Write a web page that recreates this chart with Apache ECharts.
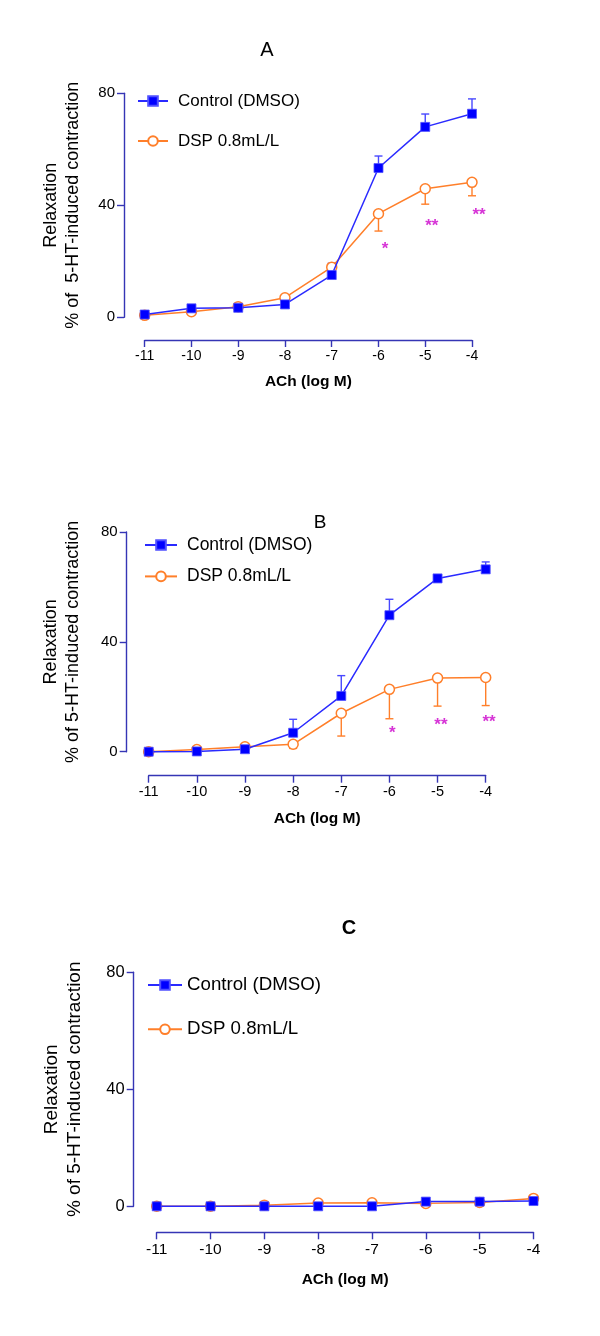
<!DOCTYPE html>
<html><head><meta charset="utf-8">
<script src="https://cdn.jsdelivr.net/npm/echarts@6/dist/echarts.min.js"></script>
<style>html,body{margin:0;padding:0;background:#fff}#c{width:600px;height:1336px}</style>
</head><body><div id="c"></div>
<script>
// ---- data ----
const xLogM = [-11, -10, -9, -8, -7, -6, -5, -4];
const xTicks = [-11, -10, -9, -8, -7, -6, -5, -4];
const yTicks = [0, 40, 80];
const seriesNames = ['Control (DMSO)', 'DSP 0.8mL/L'];
const panelTitles = ['A', 'B', 'C'];

const ctrlA = [1.0, 3.2, 3.4, 4.6, 15.1, 53.3, 68.0, 72.7];
const ctrlA_err = [0, 0, 0, 1.5, 4.2, 4.3, 4.6, 5.3];
const dspA = [0.7, 2.0, 3.8, 7.0, 17.9, 37.0, 45.9, 48.2];
const dspA_err = [0, 0, 0, 0, 0, 6.2, 5.5, 4.8];
const starsA = [[-5.86, 25.6, '*'], [-4.86, 34.0, '**'], [-3.85, 38.0, '**']];

const ctrlB = [0.0, 0.1, 0.9, 6.9, 20.3, 49.7, 63.1, 66.4];
const ctrlB_err = [0, 0, 0, 4.9, 7.4, 5.8, 0, 2.7];
const dspB = [0.0, 0.8, 1.8, 2.7, 14.0, 22.7, 26.8, 27.0];
const dspB_err = [0, 0, 0, 1.5, 8.3, 10.7, 10.2, 10.2];
const starsB = [[-5.94, 8.2, '*'], [-4.93, 10.9, '**'], [-3.93, 12.2, '**']];

const ctrlC = [0.0, 0.0, 0.0, 0.0, 0.0, 1.6, 1.6, 1.8];
const dspC = [0.0, 0.0, 0.4, 1.1, 1.2, 1.0, 1.3, 2.7];

// ---- style / layout ----
const BLUE = '#0000ff', BLUE_LINE = '#2a2aff', ORANGE = '#ff7f2a', MAG = '#cc00cc', AXIS = '#3535b5';
const FONT = '"Liberation Sans", Arial, sans-serif';
const panels = [
  {grid:{left:144.7, top:93.3, width:327.3, height:224}, yOff:20.7, xOff:22.7, tick:14, yTick:15, yName:18, legend:17,
   yTitle:'Relaxation\n% of  5-HT-induced contraction', nameGap:40, xNameGap:34, title:{x:262,y:45,size:20,bold:false},
   legendPos:{left:137, top:91}, legendGap:20, iconW:30, textPad:5, ctrl:ctrlA, cerr:ctrlA_err, dsp:dspA, derr:dspA_err, stars:starsA},
  {grid:{left:148.7, top:532, width:337, height:219.7}, yOff:22, xOff:24, tick:14.5, yTick:15, yName:18, legend:17.5,
   yTitle:'Relaxation\n% of 5-HT-induced contraction', nameGap:43, xNameGap:35, title:{x:315,y:518,size:19,bold:false},
   legendPos:{left:144, top:535}, legendGap:11.4, iconW:32, textPad:5, ctrl:ctrlB, cerr:ctrlB_err, dsp:dspB, derr:dspB_err, stars:starsB},
  {grid:{left:156.7, top:972.3, width:376.8, height:234}, yOff:23, xOff:26, tick:15.5, yTick:16.5, yName:19, legend:18.7,
   yTitle:'Relaxation\n% of 5-HT-induced contraction', nameGap:47, xNameGap:39, title:{x:344,y:923,size:20,bold:true},
   legendPos:{left:147, top:975}, legendGap:24.3, iconW:34, textPad:0, ctrl:ctrlC, cerr:null, dsp:dspC, derr:null, stars:[]}
];

const option = {animation:false, backgroundColor:'#fff', grid:[], xAxis:[], yAxis:[], legend:[], series:[], title:[]};

function errSeries(i, vals, errs, dir, color) {
  return {
    type:'custom', xAxisIndex:i, yAxisIndex:i, silent:true, z:1, clip:false,
    data: xLogM.map((x, k) => [x, vals[k], errs[k]]),
    renderItem: function(params, api) {
      const x = api.value(0), y = api.value(1), e = api.value(2);
      if (!e) return null;
      const p0 = api.coord([x, y]);
      const p1 = api.coord([x, y + dir * e]);
      const cap = 4;
      return {type:'group', children:[
        {type:'line', shape:{x1:p0[0], y1:p0[1], x2:p1[0], y2:p1[1]}, style:{stroke:color, lineWidth:1.4}},
        {type:'line', shape:{x1:p1[0]-cap, y1:p1[1], x2:p1[0]+cap, y2:p1[1]}, style:{stroke:color, lineWidth:1.4}}
      ]};
    }
  };
}

panels.forEach((p, i) => {
  option.grid.push({left:p.grid.left, top:p.grid.top, width:p.grid.width, height:p.grid.height, containLabel:false});
  option.xAxis.push({
    type:'value', gridIndex:i, min:-11, max:-4, interval:1, offset:p.xOff,
    name:'ACh (log M)', nameLocation:'middle', nameGap:p.xNameGap,
    nameTextStyle:{fontFamily:FONT, fontWeight:'bold', fontSize:15.5, color:'#000'},
    axisLine:{show:true, onZero:false, lineStyle:{color:AXIS, width:1.4}},
    axisTick:{show:true, length:7, inside:false, lineStyle:{color:AXIS, width:1.4}},
    axisLabel:{fontFamily:FONT, fontSize:p.tick, color:'#000', margin:9,
      formatter: v => xTicks.includes(v) ? String(v) : ''},
    splitLine:{show:false}
  });
  option.yAxis.push({
    type:'value', gridIndex:i, min:0, max:80, interval:40, offset:p.yOff,
    name:p.yTitle, nameLocation:'middle', nameGap:p.nameGap, nameRotate:90,
    nameTextStyle:{fontFamily:FONT, fontSize:p.yName, color:'#000', lineHeight:p.yName*1.22, align:'center'},
    axisLine:{show:true, lineStyle:{color:AXIS, width:1.4}},
    axisTick:{show:true, length:7, lineStyle:{color:AXIS, width:1.4}},
    axisLabel:{fontFamily:FONT, fontSize:p.yTick, color:'#000', margin:9,
      formatter: v => yTicks.includes(v) ? String(v) : ''},
    splitLine:{show:false}
  });
  option.legend.push({
    orient:'vertical', left:p.legendPos.left, top:p.legendPos.top, itemGap:p.legendGap, padding:0,
    itemWidth:p.iconW, itemHeight:12, data:seriesNames, selectedMode:false,
    textStyle:{fontFamily:FONT, fontSize:p.legend, color:'#000', lineHeight:20, padding:[0,0,0,p.textPad]}
  });
  option.title.push({text:panelTitles[i], left:p.title.x, top:p.title.y, textAlign:'center', textVerticalAlign:'middle',
    textStyle:{fontFamily:FONT, fontSize:p.title.size, fontWeight:p.title.bold?'bold':'normal', color:'#000'}});

  if (p.cerr) option.series.push(errSeries(i, p.ctrl, p.cerr, 1, '#4848ff'));
  if (p.derr) option.series.push(errSeries(i, p.dsp, p.derr, -1, ORANGE));
  option.series.push({
    name:seriesNames[1], type:'line', xAxisIndex:i, yAxisIndex:i, z:3, clip:false,
    data: xLogM.map((x, k) => [x, p.dsp[k]]),
    symbol:'circle', symbolSize:10, showAllSymbol:true,
    lineStyle:{color:ORANGE, width:1.5}, itemStyle:{color:'#fff', borderColor:ORANGE, borderWidth:1.5}
  });
  option.series.push({
    name:seriesNames[0], type:'line', xAxisIndex:i, yAxisIndex:i, z:4, clip:false,
    data: xLogM.map((x, k) => [x, p.ctrl[k]]),
    symbol:'rect', symbolSize:9, showAllSymbol:true,
    lineStyle:{color:BLUE_LINE, width:1.5}, itemStyle:{color:BLUE, borderColor:'#5050ff', borderWidth:0.8}
  });
  if (p.stars.length) option.series.push({
    type:'scatter', xAxisIndex:i, yAxisIndex:i, silent:true, symbolSize:0, z:5, clip:false,
    data:p.stars.map(s => ({value:[s[0], s[1]], label:{formatter:s[2]}})),
    label:{show:true, position:'inside', offset:[0, 4], fontFamily:FONT, fontWeight:'bold', fontSize:17, color:MAG}
  });
});

const chart = echarts.init(document.getElementById('c'), null, {renderer:'canvas'});
chart.setOption(option);
</script>
</body></html>
